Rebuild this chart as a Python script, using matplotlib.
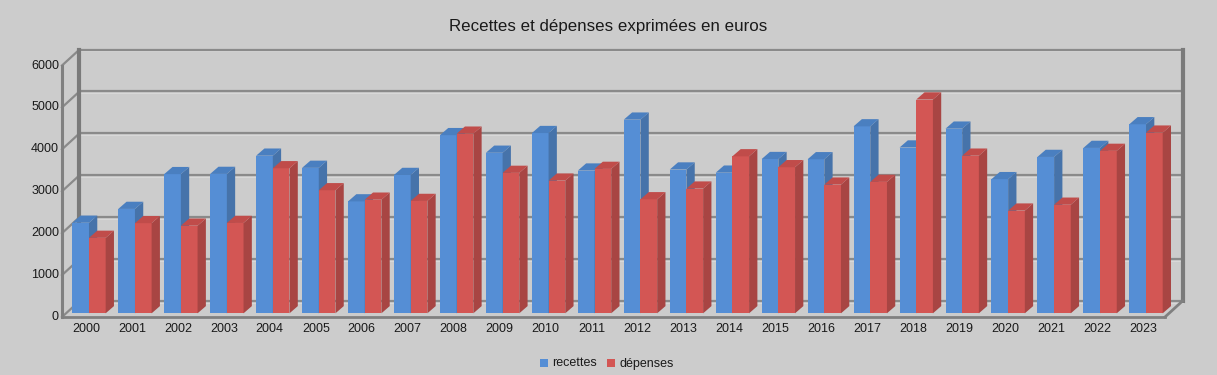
import matplotlib
matplotlib.use("Agg")
import matplotlib.pyplot as plt
from matplotlib.patches import Polygon, Rectangle
import numpy as np

plt.rcParams['font.family'] = ['Liberation Sans', 'DejaVu Sans']

# data
years = [str(y) for y in range(2000, 2024)]
recettes = [2160, 2490, 3320, 3325, 3760, 3470, 2670, 3300, 4250, 3830, 4300, 3405,
            4620, 3430, 3355, 3680, 3675, 4460, 3955, 4405, 3200, 3730, 3945, 4510]
depenses = [1800, 2150, 2090, 2155, 3460, 2935, 2710, 2680, 4285, 3350, 3165, 3445,
            2720, 2975, 3745, 3485, 3070, 3135, 5100, 3760, 2450, 2590, 3875, 4310]
yticks = [0, 1000, 2000, 3000, 4000, 5000, 6000]

BG = '#cccccc'
GRID = '#8a8a8a'
AXC = '#808080'
blue = ('#558ed5', '#4673aa', '#4a7fc0')   # front, side, top
red = ('#d35654', '#a84543', '#c04c4a')

W, H = 1217, 375
fig = plt.figure(figsize=(W / 100, H / 100), dpi=100, facecolor=BG)
# front plane of the floor: x 62..1165 px, y (from top) 317..65.5 px
ax = fig.add_axes([62 / W, (H - 317) / H, (1165 - 62) / W, (317 - 65.5) / H])
ax.set_facecolor('none')
ax.set_xlim(-0.5, 23.5)
ax.set_ylim(0, 6000)
ax.axis('off')

px_x = (1165 - 62) / 24.0      # pixels per category
px_y = (317 - 65.5) / 6000.0   # pixels per unit value

def dx(p):
    return p / px_x

def dy(p):
    return p / px_y

# depth of the back wall
BX, BY = dx(17.5), dy(16)
# bar placement in depth
OX, OY = dx(4), dy(3.7)
DX, DY = dx(8.3), dy(7.2)

kw = dict(clip_on=False)
# back wall gridlines and left wall diagonals
for v in yticks:
    ax.plot([-0.5 + BX, 23.5 + BX], [v + BY, v + BY], color=GRID, lw=1.6, zorder=1, **kw)
    ax.plot([-0.5 + BX, 23.5 + BX], [v + BY - dy(1.5), v + BY - dy(1.5)], color='#d8d8d8', lw=0.8, zorder=0.9, **kw)
    ax.plot([-0.5, -0.5 + BX], [v, v + BY], color=GRID, lw=1.6, zorder=1, **kw)
# wall edges
ax.plot([-0.5 + BX, -0.5 + BX], [BY, 6000 + BY], color='#7a7a7a', lw=3, zorder=1.5, **kw)
ax.plot([23.5 + BX, 23.5 + BX], [BY, 6000 + BY], color='#7a7a7a', lw=3, zorder=1.5, **kw)
ax.plot([-0.5, -0.5], [0, 6000], color=AXC, lw=2.2, zorder=1.5, **kw)
# floor
ax.plot([-0.5, 23.5], [0, 0], color=AXC, lw=2, zorder=1.5, **kw)
ax.plot([23.5, 23.5 + BX], [0, BY], color=AXC, lw=2, zorder=1.5, **kw)

x = np.arange(len(years))
bw = 0.363
z = 2
for i in range(len(years)):
    for k, (vals, col) in enumerate([(recettes, blue), (depenses, red)]):
        v = vals[i]
        x0 = x[i] - bw + k * bw + OX
        x1 = x0 + bw
        ax.add_patch(Rectangle((x0, OY), bw, v, facecolor=col[0], edgecolor='none', zorder=z, **kw))
        ax.add_patch(Polygon([(x1, OY), (x1, OY + v), (x1 + DX, OY + v + DY), (x1 + DX, OY + DY)],
                             closed=True, facecolor=col[1], edgecolor='none', zorder=z, **kw))
        ax.add_patch(Polygon([(x0, OY + v), (x1, OY + v), (x1 + DX, OY + v + DY), (x0 + DX, OY + v + DY)],
                             closed=True, facecolor=col[2], edgecolor='none', zorder=z, **kw))
        z += 0.01

# tick labels
for v in yticks:
    ax.text(-0.5 - dx(3), v, str(v), ha='right', va='center', fontsize=9, color='#1a1a1a')
for i, yr in enumerate(years):
    ax.text(x[i] + dx(1), -dy(12.5), yr, ha='center', va='center', fontsize=9, color='#1a1a1a')

fig.text(608 / W, 1 - 26 / H, 'Recettes et dépenses exprimées en euros', ha='center', va='center',
         fontsize=12.2, color='#1a1a1a')

# legend
base = 1 - 366.5 / H
for lx, col, lab in [(540, blue[0], 'recettes'), (607, red[0], 'dépenses')]:
    fig.patches.append(Rectangle((lx / W, 1 - 367 / H), 8 / W, 8 / H, transform=fig.transFigure,
                                 facecolor=col, edgecolor='none'))
    fig.text((lx + 12) / W, base, lab, ha='left', va='baseline', fontsize=9, color='#1a1a1a')

fig.savefig('out.png', dpi=100, facecolor=BG)
